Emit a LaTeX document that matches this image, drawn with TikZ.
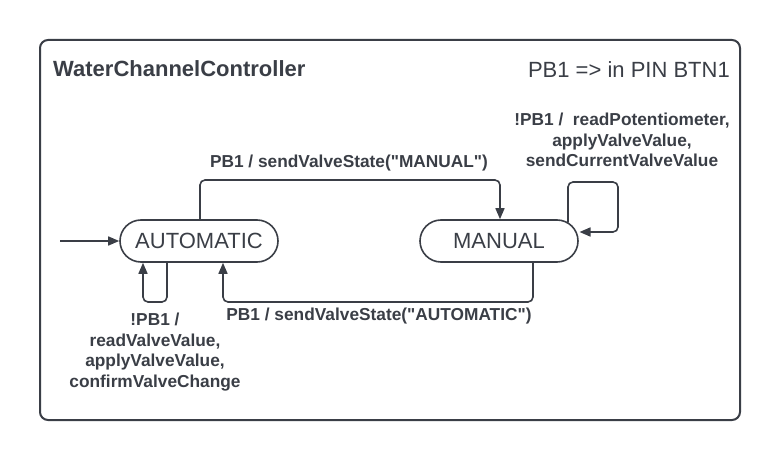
\documentclass[tikz,border=0pt]{standalone}
\usepackage{fontspec}
\setmainfont{Liberation Sans}[Ligatures=TeXOff]
\usetikzlibrary{arrows.meta,shapes.misc}
\definecolor{ink}{RGB}{58,62,70}
\newcommand{\qq}{\symbol{34}}
\begin{document}
\begin{tikzpicture}[x=1pt,y=-1pt,
  every node/.style={text=ink},
  state/.style={draw=ink,line width=1.6pt,rounded rectangle,minimum width=158pt,minimum height=42pt,font=\fontsize{22}{24}\selectfont,inner sep=0pt},
  edge/.style={draw=ink,line width=1.6pt,rounded corners=5pt,-{Triangle[length=11pt,width=9pt]}},
  lbl/.style={font=\bfseries\fontsize{17.3}{20.5}\selectfont,align=center,inner sep=0pt}]
\useasboundingbox (0,0) rectangle (780,460);
\draw[draw=ink,line width=2pt,rounded corners=8pt] (40,40) rectangle (740,420);
\node[font=\bfseries\fontsize{22}{24}\selectfont,anchor=west,inner sep=0pt] (title) at (53,69) {WaterChannelController};
\node[font=\fontsize{22}{24}\selectfont,anchor=east,inner sep=0pt] (pin) at (730,70) {PB1 => in PIN BTN1};
\node[state] (auto) at (199,241) {AUTOMATIC};
\node[state] (man) at (499,241) {MANUAL};
\coordinate (init) at (60,241);
\draw[edge] (init) -- (auto.west);
% AUTO -> MANUAL
\draw[edge] (auto.north -| 200,0) -- (200,180) -- (500,180) -- (man.north -| 500,0);
\node[lbl] (l1) at (349,163) {PB1 / sendValveState(\qq MANUAL\qq)};
% MANUAL -> AUTO
\draw[edge] (man.south -| 533,0) -- (533,302) -- (223,302) -- (auto.south -| 223,0);
\node[lbl] (l2) at (379,316) {PB1 / sendValveState(\qq AUTOMATIC\qq)};
% AUTO self loop
\draw[edge] (auto.south -| 167,0) -- (167,302) -- (143,302) -- (auto.south -| 143,0);
\node[lbl] (l3) at (155,352) {!PB1 /\\readValveValue,\\applyValveValue,\\confirmValveChange};
% MANUAL self loop
\coordinate (mt) at (568,222.5);
\coordinate (mr) at (579.5,232);
\draw[edge] (mt) -- (568,182) -- (618,182) -- (618,232) -- (mr);
\node[lbl] (l4) at (622,140) {!PB1 /\ \ readPotentiometer,\\applyValveValue,\\sendCurrentValveValue};
\end{tikzpicture}
\end{document}
